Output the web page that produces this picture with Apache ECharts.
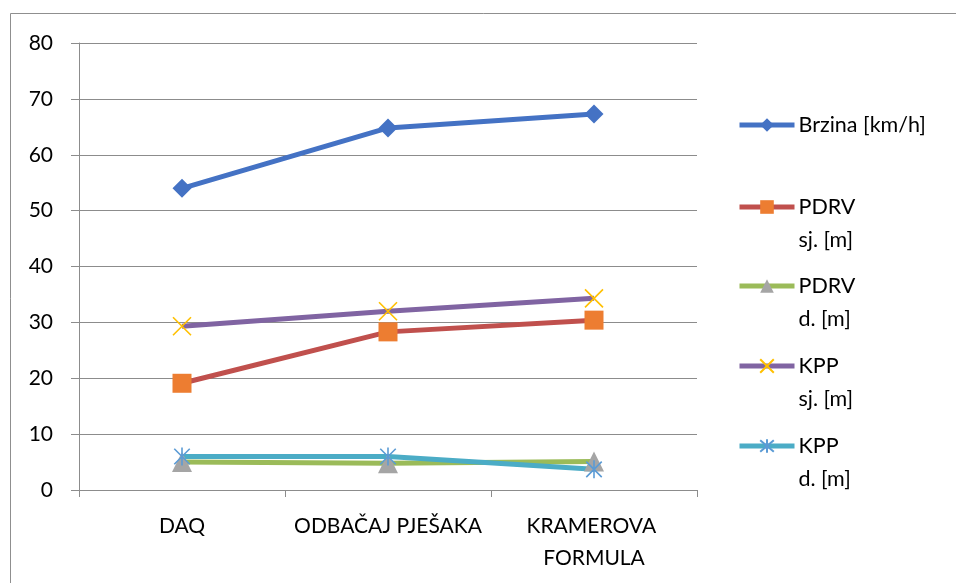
<!DOCTYPE html>
<html>
<head>
<meta charset="utf-8">
<script src="https://cdn.jsdelivr.net/npm/echarts@6/dist/echarts.min.js"></script>
<style>
  html, body { margin: 0; padding: 0; background: #fff; }
  #chart { width: 956px; height: 583px; }
</style>
</head>
<body>
<div id="chart"></div>
<script>
// Categories along the x axis
const categories = ['DAQ', 'ODBAČAJ PJEŠAKA', 'KRAMEROVA FORMULA'];

// Series values
const brzina = [54.0, 64.8, 67.3];
const pdrvSj = [19.1, 28.3, 30.4];
const pdrvD = [5.0, 4.8, 5.1];
const kppSj = [29.3, 32.0, 34.3];
const kppD = [6.0, 6.0, 3.7];

// Series names and the way they are wrapped in the legend
const seriesNames = ['Brzina [km/h]', 'PDRV sj. [m]', 'PDRV d. [m]', 'KPP sj. [m]', 'KPP d. [m]'];
const legendLines = [['Brzina [km/h]'], ['PDRV', 'sj. [m]'], ['PDRV', 'd. [m]'], ['KPP', 'sj. [m]'], ['KPP', 'd. [m]']];

// Y axis ticks
const yMin = 0, yMax = 80, yStep = 10;

const FONT = 'Lato, "Open Sans", sans-serif';
const X_MARK = 'path://M0,0L10,10M10,0L0,10';
const STAR_MARK = 'path://M5,0L5,10M0.7,0.7L9.3,9.3M9.3,0.7L0.7,9.3';

const styles = [
  { line: '#4472C4', mark: '#4472C4', symbol: 'diamond', size: 19, stroke: false },
  { line: '#C0504D', mark: '#ED7D31', symbol: 'rect', size: 19, stroke: false },
  { line: '#9BBB59', mark: '#A5A5A5', symbol: 'triangle', size: 20, stroke: false },
  { line: '#8064A2', mark: '#FFC000', symbol: X_MARK, size: 18, stroke: true },
  { line: '#4BACC6', mark: '#5B9BD5', symbol: STAR_MARK, size: 18, stroke: true }
];
const values = [brzina, pdrvSj, pdrvD, kppSj, kppD];

const series = values.map((vals, i) => {
  const s = styles[i];
  return {
    name: seriesNames[i],
    type: 'line',
    data: vals,
    symbol: s.symbol,
    symbolSize: s.size,
    symbolKeepAspect: true,
    showAllSymbol: true,
    lineStyle: { color: s.line, width: 5 },
    itemStyle: s.stroke
      ? { color: 'rgba(0,0,0,0)', borderColor: s.mark, borderWidth: 1.6 }
      : { color: s.mark, borderWidth: 0 },
    emphasis: { disabled: true },
    animation: false
  };
});

// One legend block per series so each icon sits on the first text line
const legendCenters = [125, 207, 286, 366, 446];
const legends = seriesNames.map((name, i) => {
  const lines = legendLines[i];
  const twoLine = lines.length > 1;
  return {
    orient: 'vertical',
    left: 737,
    top: legendCenters[i] - (twoLine ? 49.5 : 16.5),
    padding: 0,
    data: [name],
    itemWidth: 55,
    itemHeight: 17,
    itemGap: 0,
    selectedMode: false,
    lineStyle: { width: 5 },
    formatter: () => (twoLine ? '\n' : '') + lines.join('\n'),
    textStyle: { fontFamily: FONT, fontSize: 21.5, color: '#000', lineHeight: 33, padding: [0, 0, 0, -1] }
  };
});

const chart = echarts.init(document.getElementById('chart'), null, { renderer: 'canvas' });
chart.setOption({
  backgroundColor: '#fff',
  animation: false,
  textStyle: { fontFamily: FONT },
  graphic: [{
    type: 'rect',
    shape: { x: 10.5, y: 13.5, width: 1200, height: 1200 },
    style: { fill: 'none', stroke: '#8f8f8f', lineWidth: 1 },
    silent: true,
    z: -10
  }],
  grid: { left: 79, right: 259, top: 43, bottom: 93, containLabel: false },
  legend: legends,
  xAxis: {
    type: 'category',
    data: categories,
    boundaryGap: true,
    axisLine: { show: true, lineStyle: { color: '#8c8c8c', width: 1 } },
    axisTick: { show: true, length: 7, alignWithLabel: false, lineStyle: { color: '#8c8c8c' } },
    axisLabel: {
      interval: 0,
      margin: 20,
      fontFamily: FONT,
      fontSize: 21,
      color: '#000',
      lineHeight: 32,
      width: 214,
      overflow: 'break'
    },
    splitLine: { show: false }
  },
  yAxis: {
    type: 'value',
    min: yMin,
    max: yMax,
    interval: yStep,
    axisLine: { show: true, lineStyle: { color: '#8c8c8c', width: 1 } },
    axisTick: { show: true, length: 8, lineStyle: { color: '#8c8c8c' } },
    axisLabel: { margin: 26, fontFamily: FONT, fontSize: 21, color: '#000' },
    splitLine: { show: true, lineStyle: { color: '#8c8c8c', width: 1 } }
  },
  series: series
});
</script>
</body>
</html>
